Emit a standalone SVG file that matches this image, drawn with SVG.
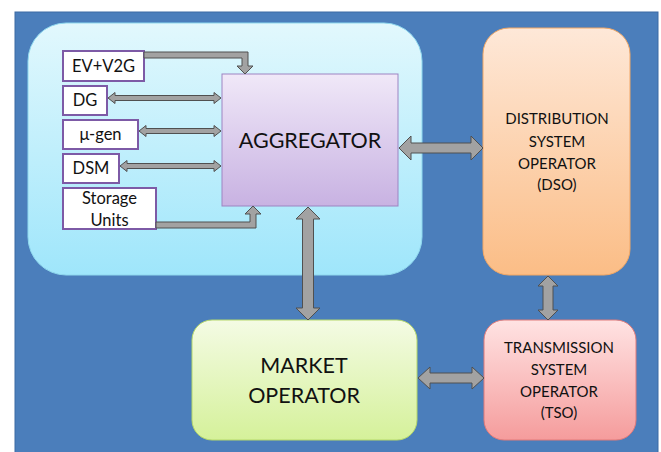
<svg xmlns="http://www.w3.org/2000/svg" width="661" height="452" viewBox="0 0 661 452">
  <defs>
    <linearGradient id="gCyan" x1="0" y1="0" x2="0" y2="1">
      <stop offset="0" stop-color="#e2f8fd"/>
      <stop offset="1" stop-color="#9fe6fb"/>
    </linearGradient>
    <linearGradient id="gPurple" x1="0" y1="0" x2="0" y2="1">
      <stop offset="0" stop-color="#f0e8f8"/>
      <stop offset="1" stop-color="#c8b2e2"/>
    </linearGradient>
    <linearGradient id="gOrange" x1="0" y1="0" x2="0" y2="1">
      <stop offset="0" stop-color="#fee8d8"/>
      <stop offset="1" stop-color="#fbbd86"/>
    </linearGradient>
    <linearGradient id="gGreen" x1="0" y1="0" x2="0" y2="1">
      <stop offset="0" stop-color="#f4fbe4"/>
      <stop offset="1" stop-color="#d5f19a"/>
    </linearGradient>
    <linearGradient id="gPink" x1="0" y1="0" x2="0" y2="1">
      <stop offset="0" stop-color="#ffe3e3"/>
      <stop offset="1" stop-color="#f59c9c"/>
    </linearGradient>
  </defs>
  <style>
    .lbl { font-family: Lato, "Liberation Sans", sans-serif; fill: #111; text-anchor: middle; }
    .small { font-size: 16.5px; }
    .op { font-size: 15px; }
    .big { font-size: 21.5px; }
    .item { fill: #ffffff; stroke: #7d5aa6; stroke-width: 2; }
    .conn { fill: #a2a2a2; stroke: #505050; stroke-width: 1; stroke-linejoin: miter; }
  </style>

  <!-- backdrop -->
  <rect x="0" y="0" width="661" height="452" fill="#ffffff"/>
  <rect x="15" y="12" width="643" height="442" fill="#4b7ebb" stroke="#3c6aa3" stroke-width="1"/>

  <!-- aggregation area -->
  <g id="aggregation-area">
    <rect x="28" y="23" width="394" height="252" rx="38" fill="url(#gCyan)" stroke="#8fd8ee" stroke-width="1"/>
  </g>

  <g id="aggregator">
    <rect x="222" y="74" width="176" height="132" fill="url(#gPurple)" stroke="#9d84c2" stroke-width="1"/>
    <text class="lbl big" x="310" y="148">AGGREGATOR</text>
  </g>

  <g id="ev-v2g">
    <rect class="item" x="63" y="51" width="81" height="30"/>
    <text class="lbl small" x="103.5" y="72">EV+V2G</text>
  </g>
  <g id="dg">
    <rect class="item" x="63" y="86" width="44" height="29"/>
    <text class="lbl small" x="85" y="106">DG</text>
  </g>
  <g id="micro-gen">
    <rect class="item" x="63" y="120" width="75" height="29"/>
    <text class="lbl small" x="100.5" y="140">μ-gen</text>
  </g>
  <g id="dsm">
    <rect class="item" x="63" y="154" width="56" height="29"/>
    <text class="lbl small" x="91" y="174">DSM</text>
  </g>
  <g id="storage-units">
    <rect class="item" x="63" y="188" width="93" height="41"/>
    <text class="lbl small" x="109.5" y="204">Storage</text>
    <text class="lbl small" x="109.5" y="226">Units</text>
  </g>

  <g id="dso">
    <rect x="483" y="28" width="147" height="247" rx="26" fill="url(#gOrange)" stroke="#f2a764" stroke-width="1"/>
    <text class="lbl op" x="557" y="124">DISTRIBUTION</text>
    <text class="lbl op" x="557" y="147">SYSTEM</text>
    <text class="lbl op" x="557" y="169">OPERATOR</text>
    <text class="lbl op" x="557" y="190">(DSO)</text>
  </g>

  <g id="market-operator">
    <rect x="192" y="320" width="225" height="120" rx="20" fill="url(#gGreen)" stroke="#b5d86a" stroke-width="1"/>
    <text class="lbl big" x="304" y="373">MARKET</text>
    <text class="lbl big" x="304" y="403">OPERATOR</text>
  </g>

  <g id="tso">
    <rect x="484" y="320" width="152" height="120" rx="20" fill="url(#gPink)" stroke="#e07a7a" stroke-width="1"/>
    <text class="lbl op" x="559" y="353">TRANSMISSION</text>
    <text class="lbl op" x="559" y="375">SYSTEM</text>
    <text class="lbl op" x="559" y="397">OPERATOR</text>
    <text class="lbl op" x="559" y="418">(TSO)</text>
  </g>

  <!-- connectors -->
  <g id="connectors">
    <!-- EV+V2G to aggregator (elbow, one way) -->
    <path class="conn" d="M144,52 L248,52 L248,66 L253,66 L245,74 L237,66 L242,66 L242,58 L144,58 Z"/>
    <!-- DG <-> aggregator -->
    <path class="conn" d="M108,98 L115,92.5 L115,95.5 L214,95.5 L214,92.5 L221,98 L214,103.5 L214,100.5 L115,100.5 L115,103.5 Z"/>
    <!-- μ-gen <-> aggregator -->
    <path class="conn" d="M139,131 L146,125.5 L146,128.5 L214,128.5 L214,125.5 L221,131 L214,136.5 L214,133.5 L146,133.5 L146,136.5 Z"/>
    <!-- DSM <-> aggregator -->
    <path class="conn" d="M120,166 L127,160.5 L127,163.5 L214,163.5 L214,160.5 L221,166 L214,171.5 L214,168.5 L127,168.5 L127,171.5 Z"/>
    <!-- storage to aggregator (elbow, one way) -->
    <path class="conn" d="M156,228 L256,228 L256,214 L261,214 L253,206 L245,214 L250,214 L250,222 L156,222 Z"/>
    <!-- aggregator <-> DSO -->
    <path class="conn" d="M399,148 L411,136 L411,143 L471,143 L471,136 L483,148 L471,160 L471,153 L411,153 L411,160 Z"/>
    <!-- aggregator <-> market operator -->
    <path class="conn" d="M308,207 L320,219 L313.5,219 L313.5,308 L320,308 L308,320 L296,308 L302.5,308 L302.5,219 L296,219 Z"/>
    <!-- DSO <-> TSO -->
    <path class="conn" d="M548,276 L558,286 L553,286 L553,310 L558,310 L548,320 L538,310 L543,310 L543,286 L538,286 Z"/>
    <!-- market operator <-> TSO -->
    <path class="conn" d="M418,378 L430,367 L430,373 L472,373 L472,367 L484,378 L472,389 L472,383 L430,383 L430,389 Z"/>
  </g>
</svg>
